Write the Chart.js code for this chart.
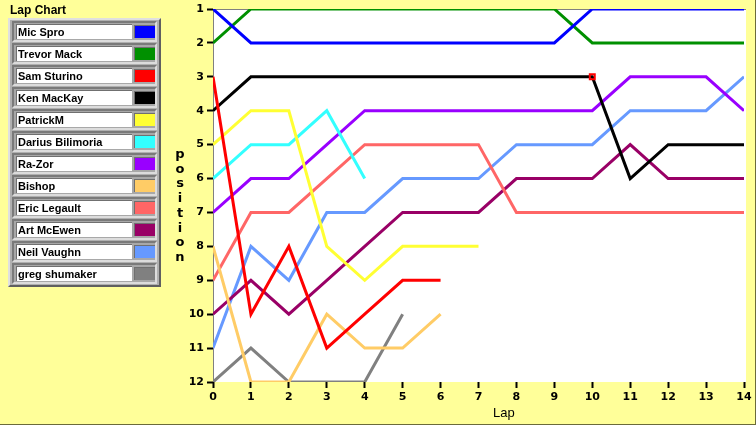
<!DOCTYPE html>
<html>
<head>
<meta charset="utf-8">
<script src="https://cdn.jsdelivr.net/npm/chart.js@4"></script>
<style>
  body { margin: 0; background: #ffff99; }
  #wrap { position: relative; width: 756px; height: 425px; background: #ffff99; overflow: hidden; }
  #wrap:after { content: ''; position: absolute; left: 0; top: 0; width: 755px; height: 424px;
    border-right: 1px solid #6b6b3a; border-bottom: 1px solid #6b6b3a; pointer-events: none; }
  canvas { position: absolute; left: 0; top: 0; }
  .txt { position: absolute; font: bold 12px "Liberation Sans", Arial, sans-serif; color: #000; }
  #legendBox { position: absolute; left: 8px; top: 18px; width: 149px; height: 265px;
    background: #b0b0b0; border: 2px solid; border-color: #e0e0e0 #606060 #606060 #e0e0e0; }
  .row { position: absolute; left: 2px; width: 141px; height: 17px; background: #a8a8a8;
    border: 2px solid; border-color: #7a7a7a #dcdcdc #dcdcdc #7a7a7a; }
  .name { position: absolute; left: 2px; top: 1px; width: 114px; height: 14px; background: #fff;
    border-top: 1px solid #707070; border-left: 1px solid #707070;
    font: bold 11px "Liberation Sans", Arial, sans-serif; line-height: 14px; padding-left: 1px; white-space: nowrap; overflow: hidden; }
  .sw { position: absolute; left: 120px; top: 2px; width: 20px; height: 12px;
    border-top: 1px solid #707070; border-left: 1px solid #707070; }
  #ytitle { position: absolute; left: 171px; top: 147px; width: 18px; text-align: center;
    font: bold 13px "DejaVu Sans", sans-serif; line-height: 14.7px; }
</style>
</head>
<body>
<div id="wrap">
  <canvas id="lapChart" width="756" height="425"></canvas>
  <div class="txt" style="left:10px; top:3px;">Lap Chart</div>
  <div id="legendBox"></div>
  <div id="ytitle"></div>
  <div class="txt" style="left:493px; top:405px; font-size:13px; font-weight:normal;">Lap</div>
</div>
<script>
// laps on the x axis
var laps = [0, 1, 2, 3, 4, 5, 6, 7, 8, 9, 10, 11, 12, 13, 14];
var positionTicks = [1, 2, 3, 4, 5, 6, 7, 8, 9, 10, 11, 12];

var drivers = ['Mic Spro', 'Trevor Mack', 'Sam Sturino', 'Ken MacKay', 'PatrickM', 'Darius Bilimoria',
    'Ra-Zor', 'Bishop', 'Eric Legault', 'Art McEwen', 'Neil Vaughn', 'greg shumaker'];
var driverColors = ['#0000ff', '#009000', '#ff0000', '#000000', '#ffff33', '#33ffff',
    '#9900ff', '#ffcc66', '#ff6666', '#990066', '#6699ff', '#808080'];

// position per lap (index = lap)
var micSpro = [1, 2, 2, 2, 2, 2, 2, 2, 2, 2, 1, 1, 1, 1, 1];
var trevorMack = [2, 1, 1, 1, 1, 1, 1, 1, 1, 1, 2, 2, 2, 2, 2];
var samSturino = [3, 10, 8, 11, 10, 9, 9];
var kenMacKay = [4, 3, 3, 3, 3, 3, 3, 3, 3, 3, 3, 6, 5, 5, 5];
var patrickM = [5, 4, 4, 8, 9, 8, 8, 8];
var dariusBilimoria = [6, 5, 5, 4, 6];
var raZor = [7, 6, 6, 5, 4, 4, 4, 4, 4, 4, 4, 3, 3, 3, 4];
var bishop = [8, 12, 12, 10, 11, 11, 10];
var ericLegault = [9, 7, 7, 6, 5, 5, 5, 5, 7, 7, 7, 7, 7, 7, 7];
var artMcEwen = [10, 9, 10, 9, 8, 7, 7, 7, 6, 6, 6, 5, 6, 6, 6];
var neilVaughn = [11, 8, 9, 7, 7, 6, 6, 6, 5, 5, 5, 4, 4, 4, 3];
var gregShumaker = [12, 11, 12, 12, 12, 10];

var seriesData = [micSpro, trevorMack, samSturino, kenMacKay, patrickM, dariusBilimoria,
    raZor, bishop, ericLegault, artMcEwen, neilVaughn, gregShumaker];

// cursor marker (lap, position)
var cursorPoint = [{ x: 10, y: 3 }];

// legend (html)
var box = document.getElementById('legendBox');
drivers.forEach(function (name, i) {
    var row = document.createElement('div');
    row.className = 'row';
    row.style.top = (1 + i * 22) + 'px';
    row.innerHTML = '<div class="name">' + name + '</div><div class="sw" style="background:' + driverColors[i] + '"></div>';
    box.appendChild(row);
});
document.getElementById('ytitle').innerHTML = 'position'.split('').join('<br>');

var datasets = drivers.map(function (name, i) {
    return {
        label: name,
        data: seriesData[i],
        borderColor: driverColors[i],
        backgroundColor: driverColors[i],
        borderWidth: 3,
        pointRadius: 0,
        tension: 0,
        fill: false
    };
});
datasets.unshift({
    label: 'cursor',
    type: 'scatter',
    data: cursorPoint,
    pointStyle: 'rect',
    pointRadius: 3.5,
    borderColor: '#ff0000',
    backgroundColor: 'rgba(0,0,0,0)',
    borderWidth: 2,
    showLine: false
});

// white plot area + grey top/left edge
var plotBg = {
    id: 'plotBg',
    beforeDatasetsDraw: function (chart) {
        var a = chart.chartArea, c = chart.ctx;
        c.save();
        c.fillStyle = '#ffffff';
        c.fillRect(a.left, a.top, a.right - a.left + 2, a.bottom - a.top);
        c.strokeStyle = '#808080';
        c.lineWidth = 1;
        c.beginPath();
        c.moveTo(a.left + 0.5, a.bottom);
        c.lineTo(a.left + 0.5, a.top + 0.5);
        c.lineTo(a.right + 2, a.top + 0.5);
        c.stroke();
        c.restore();
    }
};

var tickFont = { family: '"DejaVu Sans", sans-serif', size: 11, weight: 'bold', lineHeight: 1 };
var tickGrid = { display: true, drawOnChartArea: false, tickLength: 6, tickWidth: 2, tickColor: '#000', color: '#000' };

new Chart(document.getElementById('lapChart'), {
    type: 'line',
    data: { labels: laps, datasets: datasets },
    options: {
        responsive: false,
        animation: false,
        layout: { padding: { left: 0, top: 9, right: 12, bottom: 0 } },
        plugins: { legend: { display: false }, tooltip: { enabled: false } },
        scales: {
            x: {
                type: 'linear',
                min: 0,
                max: 14,
                afterFit: function (s) { s.height = 43; },
                border: { display: false },
                grid: tickGrid,
                ticks: { stepSize: 1, color: '#000', font: tickFont, padding: 4, maxRotation: 0 }
            },
            y: {
                type: 'linear',
                reverse: true,
                min: 1,
                max: 12,
                afterFit: function (s) { s.width = 213; },
                afterBuildTicks: function (s) { s.ticks = positionTicks.map(function (v) { return { value: v }; }); },
                border: { display: false },
                grid: tickGrid,
                ticks: { color: '#000', font: tickFont, padding: 3 }
            }
        }
    },
    plugins: [plotBg]
});
</script>
</body>
</html>
